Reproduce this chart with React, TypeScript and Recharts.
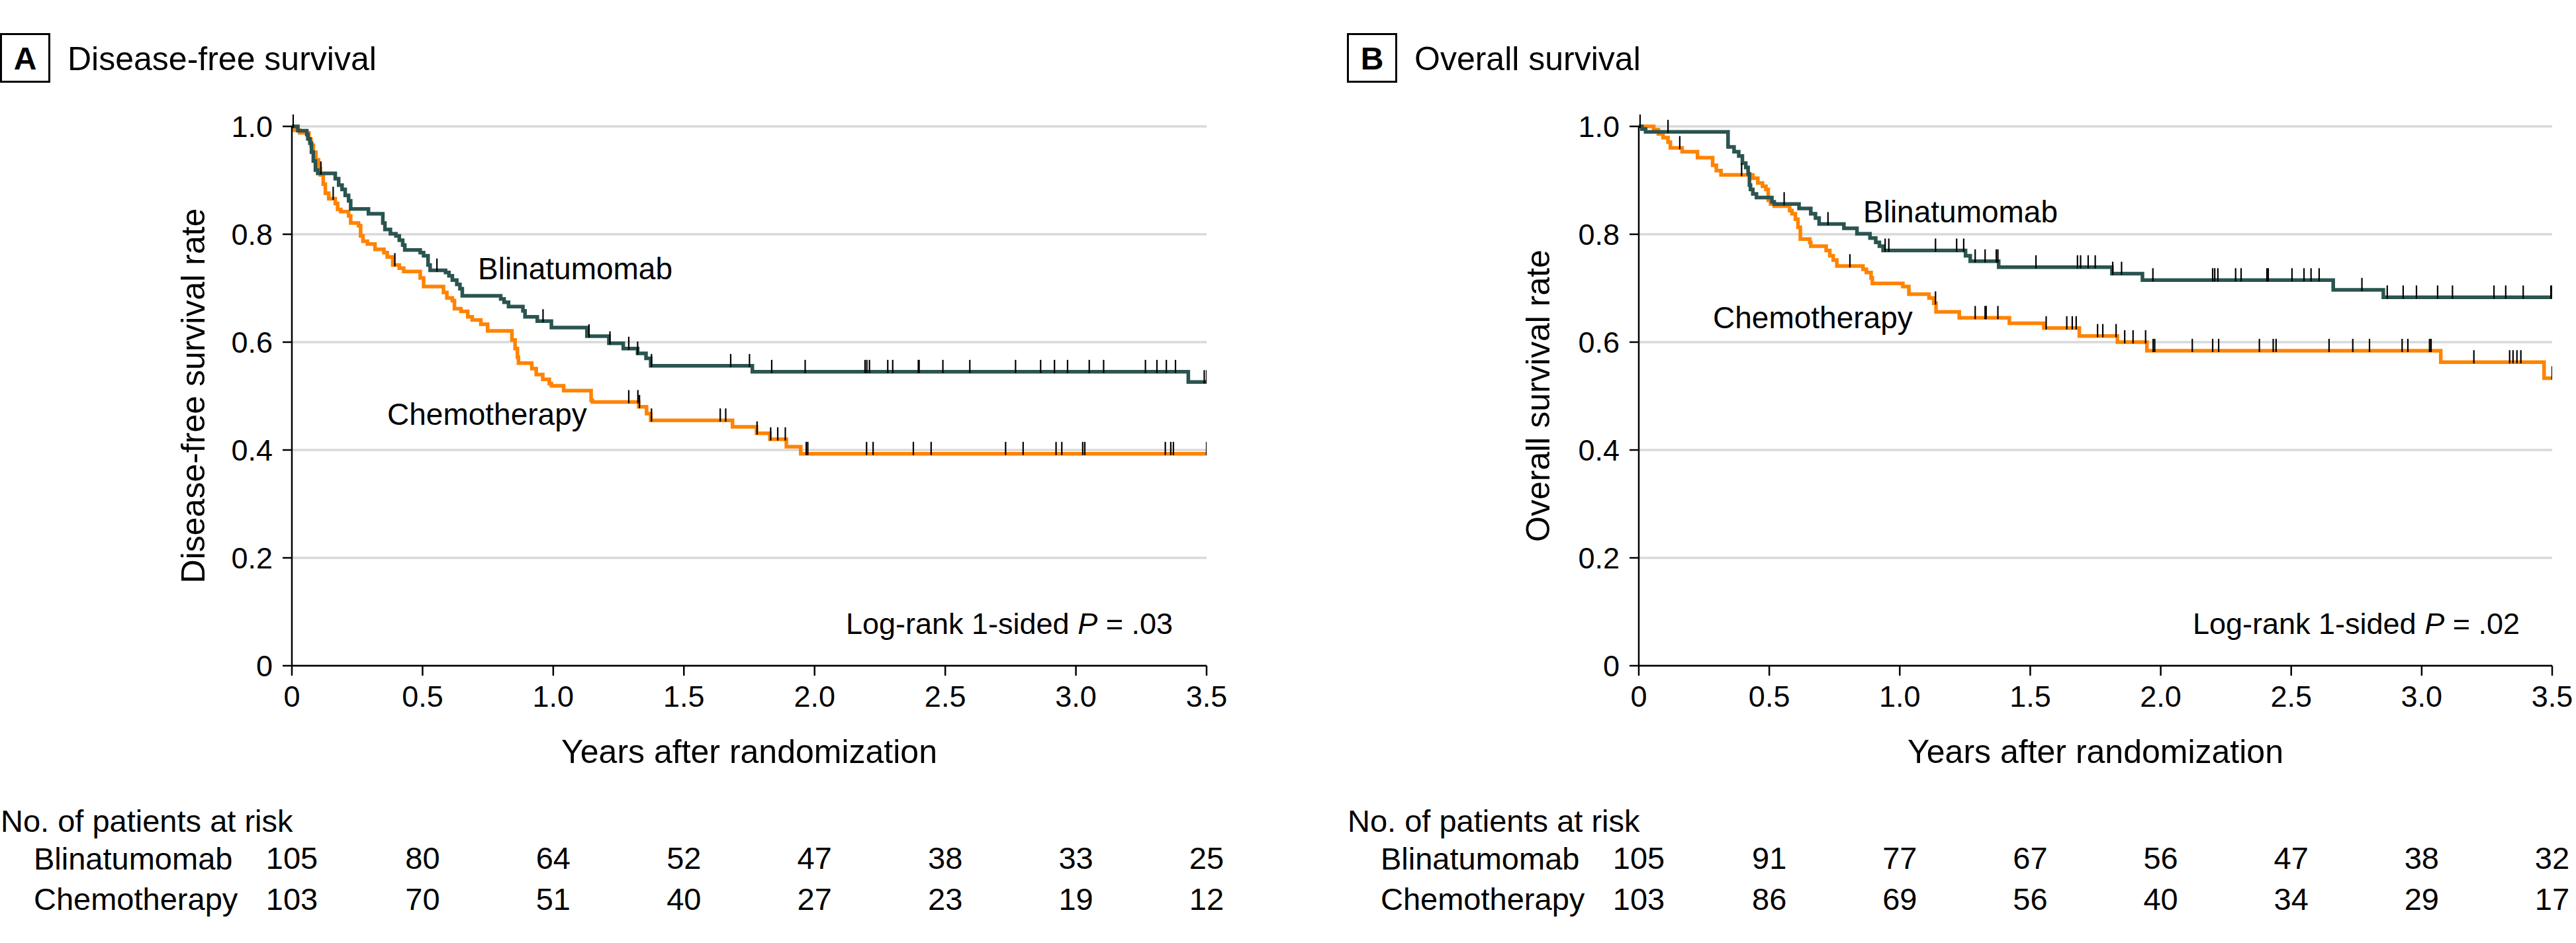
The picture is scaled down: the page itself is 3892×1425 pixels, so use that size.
import React from "react";
import { LineChart, Line, XAxis, YAxis, CartesianGrid } from "recharts";

const FONT = '"Liberation Sans", Arial, Helvetica, sans-serif';
const TEAL = "#2a5450";
const ORANGE = "#ff8300";
const GRID = "#d9d9d9";

// ---- axis ticks ----
const xTicks = [0, 0.5, 1, 1.5, 2, 2.5, 3, 3.5];
const yTicks = [0, 0.2, 0.4, 0.6, 0.8, 1];

// ---- Panel A: disease-free survival (step: [years, survival]) ----
const dfsBlinSteps: [number, number][] = [
  [0, 1], [0.023, 0.992], [0.057, 0.985], [0.061, 0.977], [0.069, 0.969], [0.075, 0.952],
  [0.082, 0.936], [0.09, 0.919], [0.099, 0.913], [0.166, 0.903], [0.179, 0.891], [0.192, 0.883],
  [0.204, 0.872], [0.217, 0.862], [0.225, 0.847], [0.293, 0.838], [0.348, 0.821], [0.356, 0.809],
  [0.377, 0.801], [0.398, 0.797], [0.411, 0.789], [0.424, 0.78], [0.432, 0.771], [0.491, 0.766],
  [0.504, 0.76], [0.521, 0.743], [0.529, 0.733], [0.588, 0.729], [0.601, 0.723], [0.614, 0.715],
  [0.631, 0.707], [0.643, 0.699], [0.652, 0.686], [0.799, 0.68], [0.812, 0.674], [0.829, 0.666],
  [0.884, 0.658], [0.892, 0.647], [0.939, 0.639], [0.993, 0.627], [1.129, 0.611], [1.213, 0.598],
  [1.268, 0.588], [1.323, 0.579], [1.355, 0.57], [1.373, 0.556], [1.762, 0.545], [3.43, 0.526],
];
const dfsBlinCensor = [
  0.005, 0.111, 0.555, 0.961, 1.137, 1.217, 1.289, 1.323, 1.376, 1.679, 1.751, 1.836, 1.964,
  2.193, 2.2, 2.21, 2.28, 2.299, 2.397, 2.4, 2.491, 2.594, 2.769, 2.865, 2.918, 2.968, 3.051,
  3.106, 3.266, 3.31, 3.346, 3.381, 3.491, 3.5,
];
const dfsChemoSteps: [number, number][] = [
  [0, 1], [0.01, 0.993], [0.03, 0.988], [0.065, 0.976], [0.073, 0.965], [0.082, 0.952],
  [0.092, 0.938], [0.102, 0.922], [0.109, 0.91], [0.12, 0.893], [0.128, 0.876], [0.141, 0.866],
  [0.166, 0.857], [0.175, 0.846], [0.187, 0.842], [0.217, 0.834], [0.225, 0.821], [0.255, 0.816],
  [0.263, 0.797], [0.272, 0.787], [0.289, 0.782], [0.318, 0.772], [0.352, 0.766], [0.365, 0.758],
  [0.386, 0.743], [0.411, 0.737], [0.428, 0.731], [0.491, 0.719], [0.504, 0.703], [0.58, 0.692],
  [0.593, 0.682], [0.614, 0.677], [0.622, 0.662], [0.647, 0.657], [0.673, 0.647], [0.69, 0.641],
  [0.723, 0.633], [0.749, 0.621], [0.842, 0.604], [0.854, 0.588], [0.863, 0.572], [0.867, 0.561],
  [0.918, 0.551], [0.935, 0.54], [0.96, 0.531], [0.985, 0.523], [0.993, 0.519], [1.04, 0.51],
  [1.145, 0.492], [1.15, 0.489], [1.327, 0.48], [1.357, 0.4675], [1.373, 0.455], [1.686, 0.443],
  [1.778, 0.431], [1.829, 0.42], [1.892, 0.406], [1.947, 0.393],
];
const dfsChemoCensor = [
  0.158, 0.394, 1.289, 1.324, 1.33, 1.376, 1.639, 1.66, 1.78, 1.832, 1.859, 1.888, 1.968, 1.974,
  2.199, 2.224, 2.378, 2.446, 2.731, 2.798, 2.924, 2.946, 3.026, 3.034, 3.342, 3.363, 3.373, 3.5,
];

// ---- Panel B: overall survival ----
const osBlinSteps: [number, number][] = [
  [0, 1], [0.012, 0.995], [0.026, 0.99], [0.342, 0.962], [0.365, 0.953], [0.383, 0.945],
  [0.397, 0.932], [0.41, 0.924], [0.419, 0.912], [0.424, 0.891], [0.428, 0.883], [0.437, 0.875],
  [0.451, 0.868], [0.51, 0.86], [0.519, 0.856], [0.614, 0.848], [0.659, 0.838], [0.677, 0.83],
  [0.691, 0.819], [0.786, 0.811], [0.836, 0.801], [0.886, 0.793], [0.908, 0.785], [0.922, 0.778],
  [0.936, 0.77], [1.252, 0.76], [1.27, 0.75], [1.379, 0.739], [1.813, 0.727], [1.93, 0.715],
  [2.661, 0.697], [2.853, 0.683],
];
const osBlinCensor = [
  0.005, 0.112, 0.557, 0.725, 0.944, 0.958, 1.137, 1.218, 1.245, 1.289, 1.327, 1.37, 1.376,
  1.522, 1.681, 1.693, 1.722, 1.749, 1.816, 1.85, 1.97, 2.199, 2.207, 2.219, 2.287, 2.308, 2.407,
  2.412, 2.503, 2.549, 2.576, 2.607, 2.771, 2.868, 2.929, 2.98, 3.061, 3.118, 3.277, 3.322, 3.389,
  3.495, 3.5,
];
const osChemoSteps: [number, number][] = [
  [0, 1], [0.057, 0.994], [0.075, 0.986], [0.093, 0.979], [0.112, 0.971], [0.121, 0.96],
  [0.166, 0.953], [0.225, 0.942], [0.283, 0.928], [0.297, 0.918], [0.315, 0.91], [0.437, 0.904],
  [0.456, 0.895], [0.474, 0.889], [0.487, 0.883], [0.496, 0.863], [0.505, 0.856], [0.519, 0.852],
  [0.578, 0.844], [0.587, 0.838], [0.6, 0.828], [0.61, 0.813], [0.619, 0.791], [0.655, 0.785],
  [0.659, 0.778], [0.718, 0.77], [0.732, 0.76], [0.745, 0.752], [0.759, 0.741], [0.859, 0.735],
  [0.872, 0.729], [0.89, 0.719], [0.895, 0.709], [1.012, 0.703], [1.035, 0.689], [1.112, 0.682],
  [1.13, 0.672], [1.139, 0.656], [1.228, 0.645], [1.42, 0.635], [1.552, 0.626], [1.688, 0.6115],
  [1.834, 0.6], [1.947, 0.584], [3.073, 0.563], [3.469, 0.533],
];
const osChemoCensor = [
  0.157, 0.394, 0.809, 1.137, 1.289, 1.327, 1.331, 1.376, 1.561, 1.64, 1.661, 1.676, 1.758,
  1.778, 1.829, 1.862, 1.894, 1.942, 1.971, 1.977, 2.121, 2.199, 2.222, 2.378, 2.431, 2.442,
  2.645, 2.736, 2.8, 2.925, 2.947, 3.03, 3.036, 3.2, 3.337, 3.35, 3.365, 3.38, 3.5,
];

// ---- numbers at risk ----
const dfsRiskBlin = [105, 80, 64, 52, 47, 38, 33, 25];
const dfsRiskChemo = [103, 70, 51, 40, 27, 23, 19, 12];
const osRiskBlin = [105, 91, 77, 67, 56, 47, 38, 32];
const osRiskChemo = [103, 86, 69, 56, 40, 34, 29, 17];

type Pt = { t: number; s: number; c: boolean };

function buildSeries(steps: [number, number][], censors: number[], end: number): Pt[] {
  const pts: Pt[] = steps.map(([t, s]) => ({ t, s, c: false }));
  const levelAt = (t: number) => {
    let s = steps[0][1];
    for (const [st, sv] of steps) if (st <= t) s = sv;
    return s;
  };
  censors.forEach((t) => pts.push({ t, s: levelAt(t), c: true }));
  if (!pts.some((p) => p.t >= end)) pts.push({ t: end, s: levelAt(end), c: false });
  pts.sort((a, b) => a.t - b.t || Number(a.c) - Number(b.c));
  return pts;
}

const fmt = (v: number) => (v === 0 ? "0" : v.toFixed(1));

const censorDot = (p: any) => {
  if (p && p.payload && p.payload.c) {
    return (
      <line key={`c-${p.index}`} x1={p.cx} x2={p.cx} y1={p.cy - 18} y2={p.cy + 2} stroke="#000" strokeWidth={2.2} />
    );
  }
  return <g key={`n-${p ? p.index : 0}`} />;
};

const makeXTick = (riskB: number[], riskC: number[]) => (props: any) => {
  const { x, y, payload, index } = props;
  const i = xTicks.indexOf(payload.value);
  return (
    <g key={`xt-${index}`} fontFamily={FONT} fill="#000">
      <text x={x} y={y + 47} textAnchor="middle" fontSize={45}>{fmt(payload.value)}</text>
      <text x={x} y={y + 292} textAnchor="middle" fontSize={47}>{riskB[i]}</text>
      <text x={x} y={y + 354} textAnchor="middle" fontSize={47}>{riskC[i]}</text>
    </g>
  );
};

type PanelProps = {
  left: number;
  yAxisWidth: number;
  rightMargin: number;
  blin: Pt[];
  chemo: Pt[];
  riskB: number[];
  riskC: number[];
};

const W = 1946;
const H = 1425;

function Panel({ left, yAxisWidth, rightMargin, blin, chemo, riskB, riskC }: PanelProps) {
  return (
    <div style={{ position: "absolute", left, top: 0, width: W, height: H }}>
      <LineChart width={W} height={H} margin={{ top: 191, right: rightMargin, bottom: 0, left: 0 }}>
        <CartesianGrid vertical={false} horizontal stroke={GRID} strokeWidth={3.5} />
        <XAxis
          type="number"
          dataKey="t"
          domain={[0, 3.5]}
          ticks={xTicks}
          interval={0}
          allowDataOverflow
          height={419}
          tickSize={15}
          tickMargin={0}
          axisLine={{ stroke: "#000", strokeWidth: 2.5 }}
          tickLine={{ stroke: "#000", strokeWidth: 2.5 }}
          tick={makeXTick(riskB, riskC)}
        />
        <YAxis
          type="number"
          domain={[0, 1]}
          ticks={yTicks}
          interval={0}
          width={yAxisWidth}
          tickSize={14}
          tickMargin={15}
          tickFormatter={fmt}
          axisLine={{ stroke: "#000", strokeWidth: 2.5 }}
          tickLine={{ stroke: "#000", strokeWidth: 2.5 }}
          tick={{ fontSize: 45, fontFamily: FONT, fill: "#000" }}
        />
        <Line
          data={chemo}
          dataKey="s"
          type="stepAfter"
          stroke={ORANGE}
          strokeWidth={5.5}
          dot={censorDot}
          activeDot={false}
          isAnimationActive={false}
          legendType="none"
        />
        <Line
          data={blin}
          dataKey="s"
          type="stepAfter"
          stroke={TEAL}
          strokeWidth={5.5}
          dot={censorDot}
          activeDot={false}
          isAnimationActive={false}
          legendType="none"
        />
      </LineChart>
    </div>
  );
}

type LabelSet = {
  ox: number;
  letter: string;
  title: string;
  ylabel: string;
  ylabelX: number;
  plotL: number;
  plotR: number;
  blinLabel: [number, number];
  chemoLabel: [number, number];
  pval: string;
  pvalRight: number;
};

const labelSets: LabelSet[] = [
  {
    ox: 0, letter: "A", title: "Disease-free survival", ylabel: "Disease-free survival rate",
    ylabelX: 309, plotL: 441, plotR: 1823, blinLabel: [722, 422], chemoLabel: [585, 642],
    pval: ".03", pvalRight: 1772,
  },
  {
    ox: 2035, letter: "B", title: "Overall survival", ylabel: "Overall survival rate",
    ylabelX: 2341, plotL: 2476, plotR: 3856, blinLabel: [2815, 336], chemoLabel: [2588, 496],
    pval: ".02", pvalRight: 3807,
  },
];

function Overlay() {
  return (
    <svg
      width={3892}
      height={1425}
      style={{ position: "absolute", left: 0, top: 0, pointerEvents: "none" }}
      fontFamily={FONT}
      fill="#000"
    >
      {labelSets.map((p) => {
        const cx = (p.plotL + p.plotR) / 2;
        return (
          <g key={p.letter}>
            <rect x={p.ox + 1.5} y={51.5} width={73} height={72} fill="none" stroke="#000" strokeWidth={3} />
            <text x={p.ox + 38} y={105} textAnchor="middle" fontSize={48} fontWeight="bold">{p.letter}</text>
            <text x={p.ox + 102} y={106} fontSize={50}>{p.title}</text>
            <text
              x={p.ylabelX}
              y={598}
              textAnchor="middle"
              fontSize={50}
              transform={`rotate(-90, ${p.ylabelX}, 598)`}
            >
              {p.ylabel}
            </text>
            <text x={cx} y={1153} textAnchor="middle" fontSize={50}>Years after randomization</text>
            <text x={p.blinLabel[0]} y={p.blinLabel[1]} fontSize={46}>Blinatumomab</text>
            <text x={p.chemoLabel[0]} y={p.chemoLabel[1]} fontSize={46}>Chemotherapy</text>
            <text x={p.pvalRight} y={958} textAnchor="end" fontSize={45}>
              Log-rank 1-sided <tspan fontStyle="italic">P</tspan> = {p.pval}
            </text>
            <text x={p.ox + 1} y={1257} fontSize={47}>No. of patients at risk</text>
            <text x={p.ox + 51} y={1314} fontSize={47}>Blinatumomab</text>
            <text x={p.ox + 51} y={1375} fontSize={47}>Chemotherapy</text>
          </g>
        );
      })}
    </svg>
  );
}

export default function App() {
  const dfsBlin = buildSeries(dfsBlinSteps, dfsBlinCensor, 3.5);
  const dfsChemo = buildSeries(dfsChemoSteps, dfsChemoCensor, 3.5);
  const osBlin = buildSeries(osBlinSteps, osBlinCensor, 3.5);
  const osChemo = buildSeries(osChemoSteps, osChemoCensor, 3.5);
  return (
    <div style={{ position: "absolute", left: 0, top: 0, width: 3892, height: 1425, background: "#fff", overflow: "hidden" }}>
      <Panel left={0} yAxisWidth={441} rightMargin={123} blin={dfsBlin} chemo={dfsChemo} riskB={dfsRiskBlin} riskC={dfsRiskChemo} />
      <Panel left={1946} yAxisWidth={530} rightMargin={36} blin={osBlin} chemo={osChemo} riskB={osRiskBlin} riskC={osRiskChemo} />
      <Overlay />
    </div>
  );
}
